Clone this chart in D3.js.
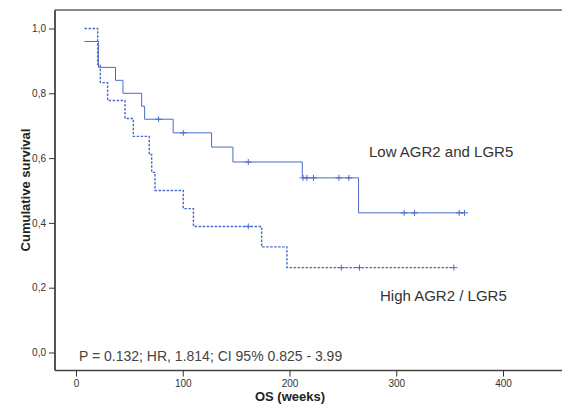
<!DOCTYPE html>
<html>
<head>
<meta charset="utf-8">
<script src="https://cdn.jsdelivr.net/npm/d3@7"></script>
<style>
  html, body { margin: 0; padding: 0; background: #fff; }
  svg { display: block; }
  text { font-family: "Liberation Sans", Arial, sans-serif; }
</style>
</head>
<body>
<svg id="chart" width="562" height="407"></svg>
<script>
// ---- Data ----
const xTicks = [0, 100, 200, 300, 400];
const yTicks = [0, 0.2, 0.4, 0.6, 0.8, 1.0];
const yTickLabels = ["0,0", "0,2", "0,4", "0,6", "0,8", "1,0"];

// Low AGR2 and LGR5 (solid): step start times and survival after each step
const lowTimes = [8, 21, 37, 44, 61.5, 64.3, 91, 127, 147, 212, 264.7, 364];
const lowSurv  = [0.96, 0.88, 0.84, 0.80, 0.76, 0.72, 0.678, 0.634, 0.588, 0.539, 0.431, 0.431];
const lowCensor = [77.4, 100.5, 161.4, 212.7, 216.3, 222.5, 246.3, 255.6, 307.4, 317, 359, 364];

// High AGR2 / LGR5 (dashed)
const highTimes = [8, 20.3, 22.8, 29.6, 45.9, 53.7, 68.6, 70.9, 74, 100.5, 110, 173.9, 197.6, 354];
const highSurv  = [1.0, 0.889, 0.833, 0.778, 0.722, 0.667, 0.611, 0.556, 0.5, 0.444, 0.389, 0.326, 0.262, 0.262];
const highCensor = [161.4, 248.5, 265.6, 354];

const labelLow = "Low AGR2 and LGR5";
const labelHigh = "High AGR2 / LGR5";
const statText = "P = 0.132; HR, 1.814; CI 95% 0.825 - 3.99";
const xTitle = "OS (weeks)";
const yTitle = "Cumulative survival";

// ---- Drawing ----
const svg = d3.select("#chart");
const x = d3.scaleLinear().domain([0, 400]).range([76, 503]);
const y = d3.scaleLinear().domain([0, 1]).range([352.5, 28.5]);

const frameLeft = 55, frameTop = 10, frameBottom = 370.5;
const curveColor = "#4b6bc8";

// frame
svg.append("line").attr("x1", frameLeft).attr("x2", 562).attr("y1", frameTop).attr("y2", frameTop)
  .attr("stroke", "#8a8a8a").attr("stroke-width", 2);

// y axis
const yAxis = d3.axisLeft(y).tickValues(yTicks).tickSize(6).tickPadding(3)
  .tickFormat((d, i) => yTickLabels[i]);
const gy = svg.append("g").attr("transform", `translate(${frameLeft},0)`).call(yAxis);
gy.select(".domain").attr("d", `M0,${frameTop}V${frameBottom}`).attr("stroke", "#555").attr("stroke-width", 2);
gy.selectAll(".tick line").attr("stroke", "#333");
gy.selectAll(".tick text").attr("fill", "#333").style("font-size", "10px")
  .style("font-family", "'Liberation Sans', Arial, sans-serif");

// x axis
const xAxis = d3.axisBottom(x).tickValues(xTicks).tickSize(6).tickPadding(3);
const gx = svg.append("g").attr("transform", `translate(0,${frameBottom})`).call(xAxis);
gx.select(".domain").attr("d", `M${frameLeft},0H562`).attr("stroke", "#444").attr("stroke-width", 1.5);
gx.selectAll(".tick line").attr("stroke", "#333");
gx.selectAll(".tick text").attr("fill", "#333").style("font-size", "10px")
  .style("font-family", "'Liberation Sans', Arial, sans-serif");

// curves
function stepData(times, surv) { return times.map((t, i) => [t, surv[i]]); }
const line = d3.line().x(d => x(d[0])).y(d => y(d[1])).curve(d3.curveStepAfter);

function survAt(times, surv, t) {
  let s = surv[0];
  for (let i = 0; i < times.length; i++) if (times[i] <= t) s = surv[i];
  return s;
}

svg.append("path").datum(stepData(lowTimes, lowSurv)).attr("d", line)
  .attr("fill", "none").attr("stroke", curveColor).attr("stroke-width", 1);
svg.append("path").datum(stepData(highTimes, highSurv)).attr("d", line)
  .attr("fill", "none").attr("stroke", curveColor).attr("stroke-width", 1.4)
  .attr("stroke-dasharray", "2.5,1.5");

function censorMarks(times, surv, cens) {
  const g = svg.append("g").attr("stroke", curveColor).attr("stroke-width", 1);
  cens.forEach(t => {
    const cx = x(t), cy = y(survAt(times, surv, t));
    g.append("line").attr("x1", cx).attr("x2", cx).attr("y1", cy - 3).attr("y2", cy + 3);
    g.append("line").attr("x1", cx - 3.5).attr("x2", cx + 3.5).attr("y1", cy).attr("y2", cy);
  });
}
censorMarks(lowTimes, lowSurv, lowCensor);
censorMarks(highTimes, highSurv, highCensor);

// labels
svg.append("text").attr("x", 369).attr("y", 157).attr("fill", "#333")
  .style("font-size", "15px").text(labelLow);
svg.append("text").attr("x", 380).attr("y", 301).attr("fill", "#333")
  .style("font-size", "15px").text(labelHigh);
svg.append("text").attr("x", 79).attr("y", 361).attr("fill", "#444")
  .style("font-size", "14px").text(statText);

// titles
svg.append("text").attr("x", 290).attr("y", 401).attr("text-anchor", "middle")
  .attr("fill", "#222").style("font-size", "13px").style("font-weight", "bold").text(xTitle);
svg.append("text").attr("transform", "translate(30,190) rotate(-90)").attr("text-anchor", "middle")
  .attr("fill", "#222").style("font-size", "13px").style("font-weight", "bold").text(yTitle);
</script>
</body>
</html>
